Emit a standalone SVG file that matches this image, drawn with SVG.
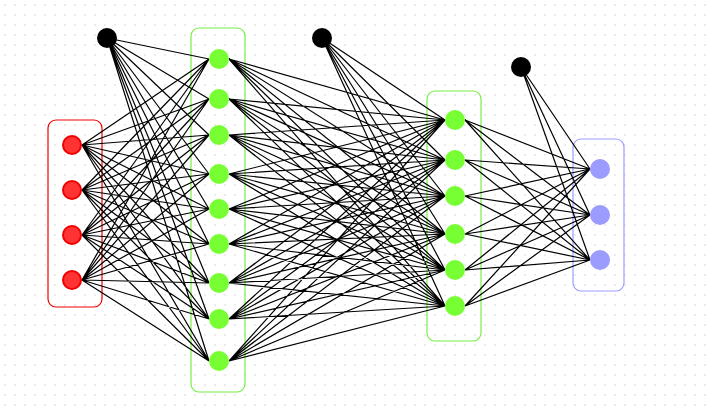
<svg xmlns="http://www.w3.org/2000/svg" width="706" height="412" viewBox="0 0 706 412">
<defs>
<pattern id="grid" width="10" height="10" patternUnits="userSpaceOnUse"><circle cx="5" cy="5" r="0.7" fill="#c8c8c8"/></pattern>
<style>
.c{stroke:#000;stroke-width:1.2;fill:none}
.in{fill:#ff3333;stroke:#ee0000;stroke-width:2}
.h{fill:#77ff33}
.o{fill:#9c9cff}
.b{fill:#000}
.box{fill:none;stroke-width:1.2}
</style>
</defs>
<rect width="706" height="412" fill="#fff"/>
<rect width="706" height="412" fill="url(#grid)"/>
<g id="boxes">
<rect class="box" x="48" y="120" width="54" height="187" rx="8" stroke="#ee0000"/>
<rect class="box" x="191" y="28" width="54" height="364" rx="8" stroke="#77ee44"/>
<rect class="box" x="427" y="91" width="54" height="250" rx="8" stroke="#77ee44"/>
<rect class="box" x="573" y="139" width="51" height="152" rx="8" stroke="#9c9cff"/>
</g>
<g id="connectors" class="c">
<path d="M82 145L209 59M82 145L209 99M82 145L209 135M82 145L209 174M82 145L209 209M82 145L209 244M82 145L209 283M82 145L209 319M82 145L209 361
M82 190L209 59M82 190L209 99M82 190L209 135M82 190L209 174M82 190L209 209M82 190L209 244M82 190L209 283M82 190L209 319M82 190L209 361
M82 235L209 59M82 235L209 99M82 235L209 135M82 235L209 174M82 235L209 209M82 235L209 244M82 235L209 283M82 235L209 319M82 235L209 361
M82 280L209 59M82 280L209 99M82 280L209 135M82 280L209 174M82 280L209 209M82 280L209 244M82 280L209 283M82 280L209 319M82 280L209 361
M107 38L209 59M107 38L209 99M107 38L209 135M107 38L209 174M107 38L209 209M107 38L209 244M107 38L209 283M107 38L209 319M107 38L209 361"/>
<path d="M229 59L445 120M229 59L445 160M229 59L445 196M229 59L445 234M229 59L445 270M229 59L445 306
M229 99L445 120M229 99L445 160M229 99L445 196M229 99L445 234M229 99L445 270M229 99L445 306
M229 135L445 120M229 135L445 160M229 135L445 196M229 135L445 234M229 135L445 270M229 135L445 306
M229 174L445 120M229 174L445 160M229 174L445 196M229 174L445 234M229 174L445 270M229 174L445 306
M229 209L445 120M229 209L445 160M229 209L445 196M229 209L445 234M229 209L445 270M229 209L445 306
M229 244L445 120M229 244L445 160M229 244L445 196M229 244L445 234M229 244L445 270M229 244L445 306
M229 283L445 120M229 283L445 160M229 283L445 196M229 283L445 234M229 283L445 270M229 283L445 306
M229 319L445 120M229 319L445 160M229 319L445 196M229 319L445 234M229 319L445 270M229 319L445 306
M229 361L445 120M229 361L445 160M229 361L445 196M229 361L445 234M229 361L445 270M229 361L445 306
M322 38L445 120M322 38L445 160M322 38L445 196M322 38L445 234M322 38L445 270M322 38L445 306"/>
<path d="M465 120L590 169M465 120L590 215M465 120L590 260
M465 160L590 169M465 160L590 215M465 160L590 260
M465 196L590 169M465 196L590 215M465 196L590 260
M465 234L590 169M465 234L590 215M465 234L590 260
M465 270L590 169M465 270L590 215M465 270L590 260
M465 306L590 169M465 306L590 215M465 306L590 260
M521 67L590 169M521 67L590 215M521 67L590 260"/>
</g>
<g id="input">
<circle class="in" cx="72" cy="145" r="9"/><circle class="in" cx="72" cy="190" r="9"/><circle class="in" cx="72" cy="235" r="9"/><circle class="in" cx="72" cy="280" r="9"/>
</g>
<g id="hidden1">
<circle class="h" cx="219" cy="59" r="10"/><circle class="h" cx="219" cy="99" r="10"/><circle class="h" cx="219" cy="135" r="10"/><circle class="h" cx="219" cy="174" r="10"/><circle class="h" cx="219" cy="209" r="10"/><circle class="h" cx="219" cy="244" r="10"/><circle class="h" cx="219" cy="283" r="10"/><circle class="h" cx="219" cy="319" r="10"/><circle class="h" cx="219" cy="361" r="10"/>
</g>
<g id="hidden2">
<circle class="h" cx="455" cy="120" r="10"/><circle class="h" cx="455" cy="160" r="10"/><circle class="h" cx="455" cy="196" r="10"/><circle class="h" cx="455" cy="234" r="10"/><circle class="h" cx="455" cy="270" r="10"/><circle class="h" cx="455" cy="306" r="10"/>
</g>
<g id="output">
<circle class="o" cx="600" cy="169" r="10"/><circle class="o" cx="600" cy="215" r="10"/><circle class="o" cx="600" cy="260" r="10"/>
</g>
<g id="bias">
<circle class="b" cx="107" cy="38" r="10"/><circle class="b" cx="322" cy="38" r="10"/><circle class="b" cx="521" cy="67" r="10"/>
</g>
</svg>
